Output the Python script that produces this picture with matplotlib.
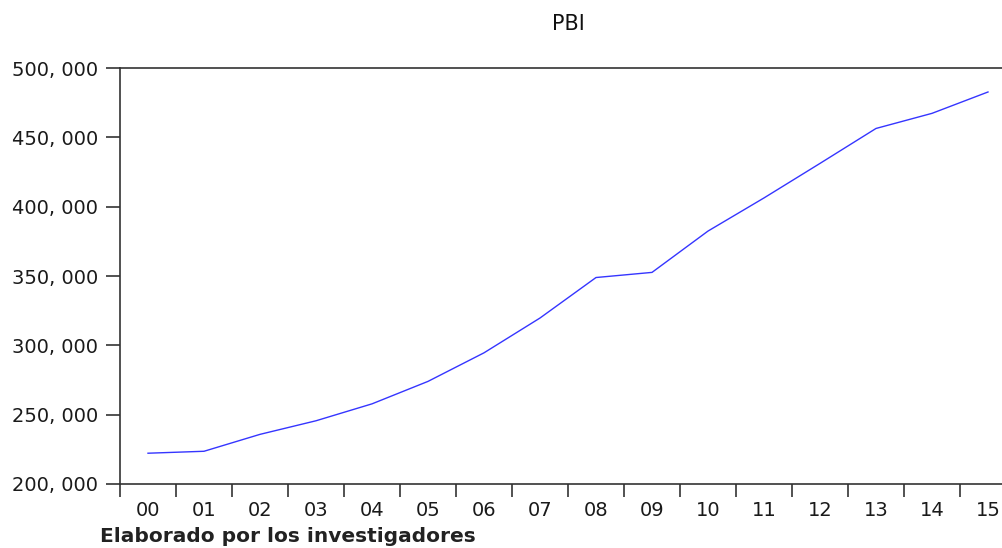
# ============================================================
# PBI series (annual).
# ============================================================

import matplotlib
matplotlib.use("Agg")
import matplotlib.pyplot as plt
from matplotlib.ticker import FuncFormatter

years = ["00", "01", "02", "03", "04", "05", "06", "07",
         "08", "09", "10", "11", "12", "13", "14", "15"]

pbi = [222200, 223600, 235800, 245600, 257800, 274000, 294600, 319700,
       348900, 352600, 382400, 406300, 431200, 456400, 467300, 482700]

y_ticks = [200000, 250000, 300000, 350000, 400000, 450000, 500000]


# ============================================================
# Figure and axes (right edge runs past the image like the original).
# ============================================================

plt.rcParams["font.family"] = ["DejaVu Sans"]

fig = plt.figure(figsize=(10.03, 5.48), dpi=100)
ax = fig.add_axes([120 / 1003, 64 / 548, 896 / 1003, 416 / 548])

x = list(range(len(years)))
ax.plot(x, pbi, color="#3535ff", linewidth=1.0)

ax.set_xlim(-0.5, len(years) - 0.5)
ax.set_ylim(200000, 500000)

# year labels sit between the tick marks
ax.set_xticks(x)
ax.set_xticklabels(years)
ax.set_xticks([i - 0.5 for i in range(len(years) + 1)], minor=True)
ax.tick_params(axis="x", which="major", length=0, pad=12,
               labelsize=14, labelcolor="#1a1a1a")
ax.tick_params(axis="x", which="minor", length=9, width=1.2,
               direction="out", color="#333333")

ax.set_yticks(y_ticks)
ax.yaxis.set_major_formatter(
    FuncFormatter(lambda v, pos: f"{int(v):,}".replace(",", ", "))
)
ax.tick_params(axis="y", length=10, width=1.2, direction="out",
               color="#333333", pad=6, labelsize=14, labelcolor="#1a1a1a")

for side in ["top", "left", "bottom"]:
    ax.spines[side].set_color("#333333")
    ax.spines[side].set_linewidth(1.2)
ax.spines["right"].set_visible(False)

ax.set_title("PBI", fontsize=15, pad=27, color="#111111")

fig.text(100 / 1003, 1 - 537 / 548, "Elaborado por los investigadores",
         fontsize=14.5, fontweight="bold", color="#222222",
         ha="left", va="center")

fig.savefig("out.png", dpi=100)
